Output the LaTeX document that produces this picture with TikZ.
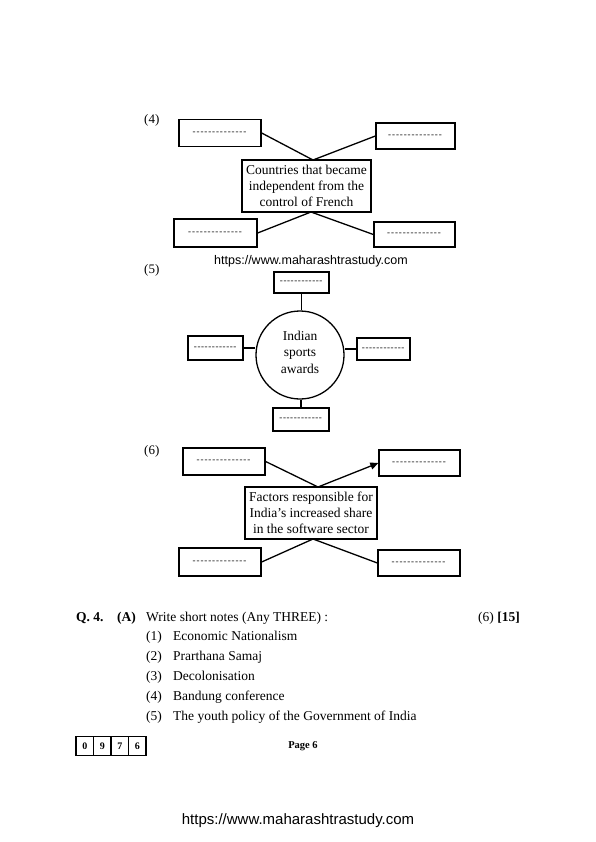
\documentclass[tikz,border=0pt]{standalone}
\usepackage{fontspec}
\setmainfont{Liberation Serif}
\newfontfamily\wmfont{Liberation Sans}
\usetikzlibrary{arrows.meta}
\newcommand\hyph[2]{\mbox{\fontsize{9}{9}\selectfont\foreach\k in {1,...,#1}{-\kern#2}}}
\begin{document}
\begin{tikzpicture}[x=1pt,y=-1pt,
  blank/.style={draw, line width=1.3pt, inner sep=0pt, minimum width=#1},
  blank/.default=82pt,
  mainbox/.style={draw, line width=1.3pt, inner sep=2pt, align=center, font=\fontsize{13.5}{16}\selectfont},
  conn/.style={line width=1.3pt},
  lbl/.style={font=\fontsize{13}{15}\selectfont, anchor=base west, inner sep=0pt},
  txt/.style={font=\fontsize{13.5}{16}\selectfont, anchor=base west, inner sep=0pt},
  wm/.style={font=\wmfont\fontsize{12.5}{14}\selectfont, inner sep=0pt},
  cell/.style={draw, line width=1.1pt, minimum width=17.5pt, minimum height=19pt, inner sep=0pt, font=\bfseries\fontsize{10}{10}\selectfont}
]
\useasboundingbox[fill=white] (0,0) rectangle (595,842);

% ---------- (4) ----------
\node[lbl] (n4) at (144,124) {(4)};
\node[blank=82pt, minimum height=27pt] (tl4) at (220,133) {\hyph{14}{0.9pt}};
\node[blank=79pt, minimum height=26pt] (tr4) at (415.5,136) {\hyph{14}{0.9pt}};
\node[mainbox, minimum width=129pt, minimum height=52pt] (c4) at (306.5,186)
  {Countries that became\\independent from the\\control of French};
\node[blank=83pt, minimum height=28pt] (bl4) at (215.5,233) {\hyph{14}{0.9pt}};
\node[blank=81pt, minimum height=25pt] (br4) at (414.5,234.5) {\hyph{14}{0.9pt}};
\coordinate (j4t) at (313,160);
\coordinate (j4b) at (311,212);
\draw[conn] (tl4.east) -- (j4t) -- (tr4.west);
\draw[conn] (bl4.east) -- (j4b) -- (br4.west);

\node[wm] (w1) at (311,261) {https://www.maharashtrastudy.com};

% ---------- (5) ----------
\node[lbl] (n5) at (144,273) {(5)};
\node[draw, circle, line width=1.3pt, minimum size=88pt, inner sep=0pt, align=center,
      font=\fontsize{13.5}{16.5}\selectfont] (circ) at (300,355) {Indian\\sports\\awards\\[-10.5pt]};
\node[blank=55pt, minimum height=21pt] (t5) at (301.5,282.5) {\hyph{12}{0.6pt}};
\node[blank=55pt, minimum height=24pt] (l5) at (215.5,348) {\hyph{12}{0.6pt}};
\node[blank=53pt, minimum height=22pt] (r5) at (383.5,349) {\hyph{12}{0.6pt}};
\node[blank=56pt, minimum height=23pt] (b5) at (301,419.5) {\hyph{12}{0.6pt}};
\draw[conn] (t5.south) -- (t5.south |- circ.north);
\draw[conn] (l5.east) -- (l5.east -| circ.west);
\draw[conn] (r5.west) -- (r5.west -| circ.east);
\draw[conn] (b5.north) -- (b5.north |- circ.south);

% ---------- (6) ----------
\node[lbl] (n6) at (144,454) {(6)};
\node[blank=82pt, minimum height=27pt] (tl6) at (224,461.5) {\hyph{14}{0.9pt}};
\node[blank=81pt, minimum height=26pt] (tr6) at (419.5,463) {\hyph{14}{0.9pt}};
\node[mainbox, minimum width=132pt, minimum height=52pt] (c6) at (311,513)
  {Factors responsible for\\India’s increased share\\in the software sector};
\node[blank=82pt, minimum height=28pt] (bl6) at (220,562) {\hyph{14}{0.9pt}};
\node[blank=82pt, minimum height=26pt] (br6) at (419,563) {\hyph{14}{0.9pt}};
\coordinate (j6t) at (318,487);
\coordinate (j6b) at (313,539);
\draw[conn] (tl6.east) -- (j6t);
\draw[conn, -{Triangle[length=8pt,width=7pt]}] (j6t) -- (tr6.west);
\draw[conn] (bl6.east) -- (j6b) -- (br6.west);

% ---------- Q. 4 ----------
\node[txt, font=\bfseries\fontsize{13.5}{16}\selectfont] (q4) at (76,621) {Q. 4.};
\node[txt, font=\bfseries\fontsize{13.5}{16}\selectfont] (qa) at (117,621) {(A)};
\node[txt] (qt) at (146,621) {Write short notes (Any THREE) :};
\node[txt, anchor=base east] (qm) at (520,621) {(6) \textbf{[15]}};
\node[txt] (i1) at (146,640) {(1)}; \node[txt] (t1) at (173,640) {Economic Nationalism};
\node[txt] (i2) at (146,660) {(2)}; \node[txt] (t2) at (173,660) {Prarthana Samaj};
\node[txt] (i3) at (146,680) {(3)}; \node[txt] (t3) at (173,680) {Decolonisation};
\node[txt] (i4) at (146,700) {(4)}; \node[txt] (t4) at (173,700) {Bandung conference};
\node[txt] (i5) at (146,720) {(5)}; \node[txt] (t5t) at (173,720) {The youth policy of the Government of India};

% ---------- footer ----------
\node[cell] (d0) at (84.75,746) {0};
\node[cell] (d1) at (102.25,746) {9};
\node[cell] (d2) at (119.75,746) {7};
\node[cell] (d3) at (137.25,746) {6};
\node[font=\bfseries\fontsize{10.5}{12}\selectfont, inner sep=0pt] (pg) at (303,746) {Page 6};
\node[wm, font=\wmfont\fontsize{15}{17}\selectfont] (w2) at (298,821) {https://www.maharashtrastudy.com};
\end{tikzpicture}
\end{document}
